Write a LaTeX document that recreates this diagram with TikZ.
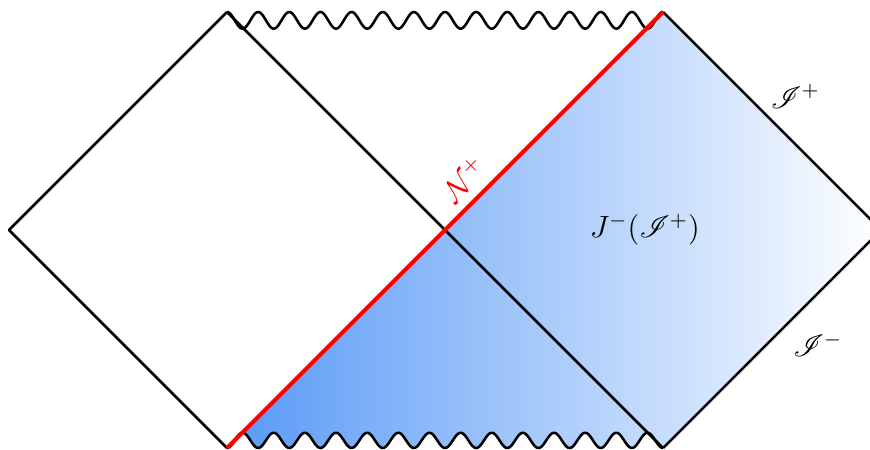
\documentclass[tikz,border=0pt]{standalone}
\usepackage{amsmath, amssymb, mathrsfs}
\usetikzlibrary{positioning, calc}
\definecolor{shadeblue}{RGB}{88,153,246}

\begin{document}
\begin{tikzpicture}[line join=round,
    bound/.style={line width=1pt},
    horizon/.style={red, line width=1.6pt},
    sing/.style={line width=1pt, smooth},
    lbl/.style={font=\large},
    ]
    \useasboundingbox (-6.124,-3.027) rectangle (5.848,3.165);
    % Corners
    \coordinate (l) at (-6,0);
    \coordinate (tl) at (-3,3);
    \coordinate (bl) at (-3,-3);
    \coordinate (c) at (0,0);
    \coordinate (tr) at (3,3);
    \coordinate (br) at (3,-3);
    \coordinate (r) at (6,0);

    % Causal past of scri+
    \fill[left color=shadeblue, right color=white] (bl) -- (tr) -- (r) -- (br)
        -- plot[domain=3:-3, samples=300] (\x,{-3+0.105*(1-cos(840*(\x+3)))}) -- cycle;

    % Boundaries
    \draw[bound] (tl) -- (l) -- (bl);
    \draw[bound] (tl) -- (br);
    \draw[bound] (tr) -- (r) -- (br);

    % Singularities
    \draw[sing] plot[domain=-3:3, samples=300] (\x,{3-0.115*(1-cos(840*(\x+3)))});
    \draw[sing] plot[domain=-3:3, samples=300] (\x,{-3+0.105*(1-cos(840*(\x+3)))});

    % Horizon
    \draw[horizon] (bl) -- node[pos=0.58, sloped, above, lbl] {$\mathcal{N}^+$} (tr);

    % Labels
    \node[lbl] (past) at (2.75,0) {$J^-(\mathscr{I}^+)$};
    \node[lbl] (scrip) at (4.82,1.84) {$\mathscr{I}^+$};
    \node[lbl] (scrim) at (5.13,-1.58) {$\mathscr{I}^-$};
\end{tikzpicture}
\end{document}
